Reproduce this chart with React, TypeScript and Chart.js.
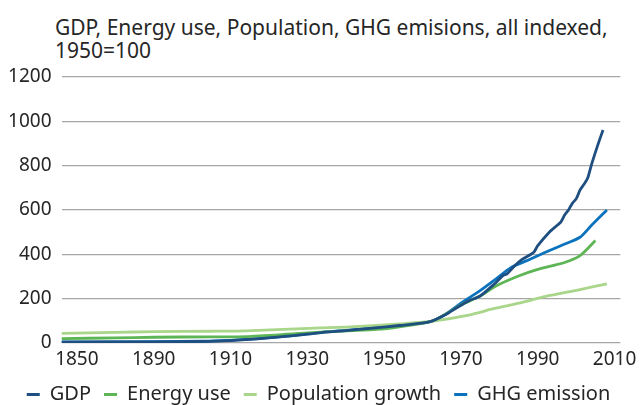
import React, { useEffect, useRef } from "react";
import { Chart, registerables } from "chart.js";

Chart.register(...registerables);

// Axis years as they read on the reference's (non-uniform) category axis
const tickYears = [1850, 1890, 1910, 1930, 1950, 1970, 1990, 2010];
const tickLabels = ["1850", "1890", "1910", "1930", "1950", "1970", "1990", "2010"];
const yTicks = [0, 200, 400, 600, 800, 1000, 1200];

const gdpYears = [1842, 1890, 1903, 1910, 1914, 1920, 1927, 1933, 1940, 1947, 1954, 1962, 1966, 1969, 1972, 1975, 1979, 1981, 1982, 1984, 1986, 1988, 1989, 1990, 1993, 1995, 1996, 1997, 1998, 1999, 2000, 2001, 2002, 2003, 2004, 2005, 2006, 2007];
const gdpValues = [4, 5, 7, 11, 15, 23, 34, 46, 56, 67, 79, 96, 128, 160, 190, 212, 271, 305, 312, 348, 378, 398, 410, 439, 500, 530, 545, 577, 600, 630, 650, 690, 715, 744, 805, 860, 912, 961];

const energyYears = [1842, 1870, 1890, 1905, 1914, 1927, 1940, 1948, 1954, 1962, 1966, 1970, 1975, 1979, 1985, 1990, 1997, 2001, 2005];
const energyValues = [20, 23, 26, 28, 29, 42, 55, 61, 73, 96, 130, 172, 212, 256, 302, 332, 363, 394, 462];

const popYears = [1842, 1870, 1890, 1905, 1914, 1927, 1940, 1954, 1962, 1972, 1979, 1986, 1992, 2001, 2008];
const popValues = [43, 48, 51, 53, 55, 64, 72, 86, 97, 126, 157, 183, 210, 241, 267];

const ghgYears = [1842, 1890, 1903, 1910, 1914, 1920, 1927, 1933, 1940, 1947, 1954, 1962, 1966, 1970, 1975, 1979, 1983, 1988, 1992, 1996, 2001, 2004, 2008];
const ghgValues = [5, 6, 8, 12, 16, 24, 35, 47, 57, 68, 80, 96, 130, 180, 236, 287, 340, 378, 409, 439, 477, 531, 600];

const seriesNames = ["GDP", "Energy use", "Population growth", "GHG emission"];
const seriesColors = ["#1f4e80", "#5db555", "#a9d68a", "#0b72bd"];

// The reference axis squeezes 1850-1890 into the same width as 20 years
function yearToPos(year: number): number {
  return year <= 1890 ? (year - 1850) / 40 : 1 + (year - 1890) / 20;
}

function toPoints(years: number[], values: number[]) {
  return years.map((y, i) => ({ x: yearToPos(y), y: values[i] }));
}

const legendShift = {
  id: "legendShift",
  afterUpdate(chart: any) {
    const lg = chart.legend;
    if (!lg) return;
    lg.left += 4;
    lg.right += 4;
    lg.adjustHitBoxes();
  },
};

export default function App() {
  const ref = useRef<HTMLCanvasElement | null>(null);

  useEffect(() => {
    if (!ref.current) return;
    const font = "'Noto Sans', sans-serif";
    const textColor = "#262626";
    const all = [
      toPoints(gdpYears, gdpValues),
      toPoints(energyYears, energyValues),
      toPoints(popYears, popValues),
      toPoints(ghgYears, ghgValues),
    ];
    const chart = new Chart(ref.current, {
      type: "line",
      data: {
        datasets: all.map((pts, i) => ({
          label: seriesNames[i],
          data: pts,
          borderColor: seriesColors[i],
          backgroundColor: seriesColors[i],
          borderWidth: 2.8,
          pointRadius: 0,
          tension: 0.25,
          fill: false,
        })),
      },
      plugins: [legendShift],
      options: {
        animation: false,
        responsive: true,
        maintainAspectRatio: false,
        layout: { padding: { top: 77, right: 19, left: 6, bottom: -9.5 } },
        font: { family: font },
        plugins: {
          title: { display: false },
          tooltip: { enabled: false },
          legend: {
            position: "bottom",
            labels: {
              color: textColor,
              font: { family: font, size: 20 },
              boxWidth: 13,
              boxHeight: 3,
              padding: 13,
              generateLabels: (c: any) => {
                const items = Chart.defaults.plugins.legend.labels.generateLabels(c);
                return items.map((it: any) => ({ ...it, lineWidth: 0 }));
              },
            },
          },
        },
        scales: {
          x: {
            type: "linear",
            min: yearToPos(1842),
            max: yearToPos(2011.5),
            grid: { display: false, drawTicks: false },
            border: { display: false },
            afterBuildTicks: (scale: any) => {
              scale.ticks = tickYears.map((y) => ({ value: yearToPos(y) }));
            },
            afterFit: (scale: any) => {
              scale.height = 28.5;
            },
            ticks: {
              color: textColor,
              font: { family: font, size: 19 },
              maxRotation: 0,
              autoSkip: false,
              padding: 5.5,
              callback: (v: any) => {
                const i = tickYears.findIndex((y) => Math.abs(yearToPos(y) - Number(v)) < 1e-6);
                return i >= 0 ? tickLabels[i] : "";
              },
            },
          },
          y: {
            min: 0,
            max: 1200,
            afterBuildTicks: (scale: any) => {
              scale.ticks = yTicks.map((v) => ({ value: v }));
            },
            afterFit: (scale: any) => {
              scale.width = 55.5;
            },
            grid: { color: "#a6a6a6", lineWidth: 1.2, drawTicks: false },
            border: { display: false },
            ticks: {
              color: textColor,
              font: { family: font, size: 19 },
              padding: 10,
              callback: (v: any) => String(v),
            },
          },
        },
      },
    });
    return () => chart.destroy();
  }, []);

  return (
    <div style={{ position: "absolute", left: 0, top: 0, width: 642, height: 405, background: "#fff" }}>
      <div
        style={{
          position: "absolute",
          left: 55,
          top: 16,
          fontFamily: "'Noto Sans', sans-serif",
          fontSize: 21,
          lineHeight: "23px",
          color: "#262626",
          whiteSpace: "nowrap",
        }}
      >
        GDP, Energy use, Population, GHG emisions, all indexed,
        <br />
        1950=100
      </div>
      <canvas ref={ref} style={{ position: "absolute", left: 0, top: 0, width: 642, height: 405 }} />
    </div>
  );
}
